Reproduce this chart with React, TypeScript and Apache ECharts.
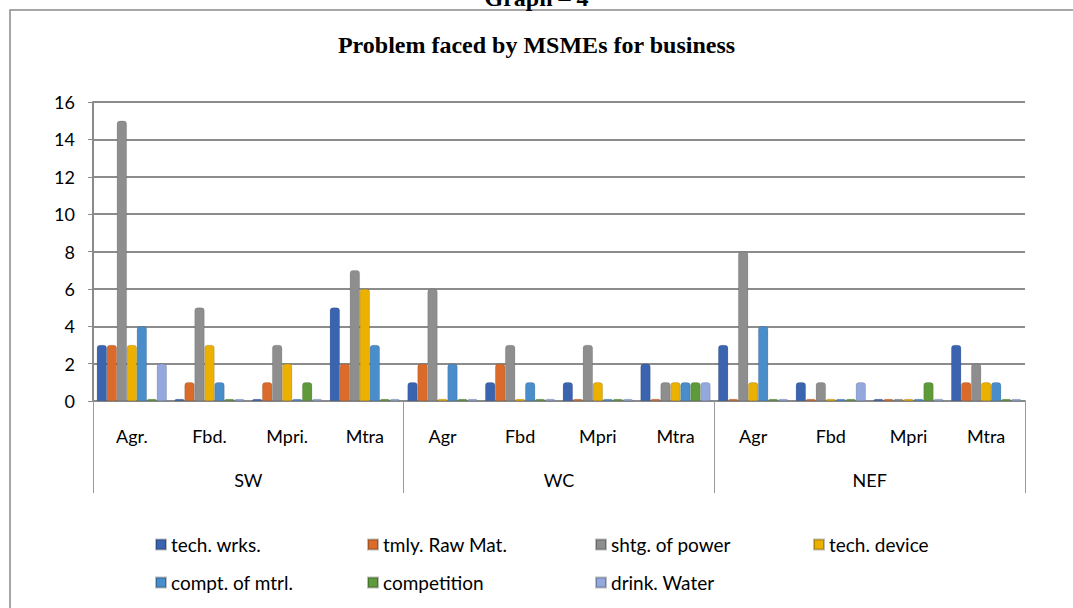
import React, { useEffect, useRef } from "react";
import * as echarts from "echarts";

const categories = ["Agr.", "Fbd.", "Mpri.", "Mtra", "Agr", "Fbd", "Mpri", "Mtra", "Agr", "Fbd", "Mpri", "Mtra"];
const groups = ["SW", "WC", "NEF"];
const yTicks = [0, 2, 4, 6, 8, 10, 12, 14, 16];

const techWrks = [3, 0, 0, 5, 1, 1, 1, 2, 3, 1, 0, 3];
const rawMat = [3, 1, 1, 2, 2, 2, 0, 0, 0, 0, 0, 1];
const power = [15, 5, 3, 7, 6, 3, 3, 1, 8, 1, 0, 2];
const techDevice = [3, 3, 2, 6, 0, 0, 1, 1, 1, 0, 0, 1];
const comptMtrl = [4, 1, 0, 3, 2, 1, 0, 1, 4, 0, 0, 1];
const competition = [0, 0, 1, 0, 0, 0, 0, 1, 0, 0, 1, 0];
const drinkWater = [2, 0, 0, 0, 0, 0, 0, 1, 0, 1, 0, 0];

const seriesNames = ["tech. wrks.", "tmly. Raw Mat.", "shtg. of power", "tech. device", "compt. of mtrl.", "competition", "drink. Water"];
const seriesData = [techWrks, rawMat, power, techDevice, comptMtrl, competition, drinkWater];
const colors = ["#3A63B0", "#DA6B2A", "#8E8E8E", "#EBB000", "#4A8DCB", "#5E9A3A", "#94A8DE"];

const legendPos = [
  [150, 530], [362, 530], [590, 530], [808, 530],
  [150, 568], [362, 568], [590, 568],
];

export default function App() {
  const ref = useRef<HTMLDivElement>(null);
  useEffect(() => {
    document.body.style.margin = "0";
    const chart = echarts.init(ref.current!, null, { renderer: "svg" });
    const font = "Lato, 'Open Sans', sans-serif";
    chart.setOption({
      animation: false,
      backgroundColor: "#fff",
      title: {
        text: "Problem faced by MSMEs for business",
        left: "center",
        top: 28,
        textStyle: { fontFamily: "'Liberation Serif', serif", fontWeight: "bold", fontSize: 24, color: "#000" },
      },
      graphic: [
        {
          type: "rect",
          shape: { x: 10, y: 10, width: 1070, height: 620 },
          style: { fill: "none", stroke: "#8a8a8a", lineWidth: 1.5 },
          silent: true,
        },
        {
          type: "text",
          left: "center",
          top: -14,
          style: { text: "Graph – 4", font: "bold 24px 'Liberation Serif', serif", fill: "#000" },
        },
      ],
      legend: seriesNames.map((n, i) => ({
        data: [n],
        left: legendPos[i][0],
        top: legendPos[i][1],
        itemWidth: 10,
        itemHeight: 10,
        itemGap: 6,
        icon: "rect",
        textStyle: { fontFamily: font, fontSize: 19, color: "#000" },
      })),
      grid: { left: 93, right: 48, top: 102, bottom: 207 },
      xAxis: [
        {
          type: "category",
          data: categories,
          axisLine: { lineStyle: { color: "#8a8a8a", width: 2 } },
          axisTick: { show: false },
          axisLabel: { fontFamily: font, fontSize: 18, color: "#000", margin: 26 },
        },
        {
          type: "category",
          data: groups,
          position: "bottom",
          axisLine: { show: false },
          axisTick: { show: true, length: 92, lineStyle: { color: "#9a9a9a" } },
          axisLabel: { fontFamily: font, fontSize: 18, color: "#000", margin: 70 },
        },
      ],
      yAxis: {
        type: "value",
        min: yTicks[0],
        max: yTicks[yTicks.length - 1],
        interval: 2,
        axisLine: { show: true, lineStyle: { color: "#8a8a8a", width: 2 } },
        axisTick: { show: true, length: 5, lineStyle: { color: "#8a8a8a" } },
        axisLabel: { fontFamily: font, fontSize: 18, color: "#000", margin: 18 },
        splitLine: { lineStyle: { color: "#8c8c8c", width: 2 } },
      },
      series: seriesNames.map((n, i) => ({
        name: n,
        type: "bar",
        data: seriesData[i],
        barWidth: 10,
        barGap: "0%",
        barMinHeight: 2,
        itemStyle: { color: colors[i], borderColor: "rgba(0,0,0,0.25)", borderWidth: 0.5, borderRadius: [3, 3, 0, 0] },
      })),
    });
    return () => chart.dispose();
  }, []);
  return <div ref={ref} style={{ position: "absolute", left: 0, top: 0, width: 1073, height: 608 }} />;
}
